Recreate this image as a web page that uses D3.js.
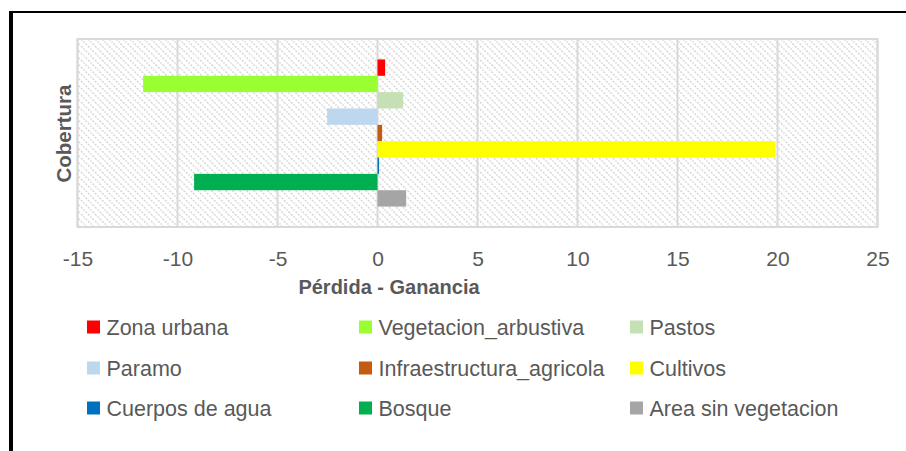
<!DOCTYPE html>
<meta charset="utf-8">
<script src="https://d3js.org/d3.v7.min.js"></script>
<style>
    body {
        margin: 0;
        background: #fff;
        font-family: 'Liberation Sans', 'Arial', sans-serif;
    }
</style>
<div id="my_dataviz"></div>
<script>
    // series (one category: Cobertura)
    var series = ["Zona urbana", "Vegetacion_arbustiva", "Pastos", "Paramo",
        "Infraestructura_agricola", "Cultivos", "Cuerpos de agua", "Bosque", "Area sin vegetacion"];
    var values = [0.38, -11.72, 1.28, -2.52, 0.23, 19.9, 0.08, -9.17, 1.43];
    var colors = ["#ff0000", "#99ff33", "#c5e0b4", "#bdd7ee", "#c55a11", "#ffff00", "#0070c0", "#00b050", "#a5a5a5"];
    var xTicks = [-15, -10, -5, 0, 5, 10, 15, 20, 25];

    var W = 906, H = 451;
    var plot = {left: 77.5, right: 877.5, top: 39, bottom: 227};

    var svg = d3.select("#my_dataviz")
        .append("svg")
        .attr("width", W)
        .attr("height", H);

    // hatch pattern for plot background
    var defs = svg.append("defs");
    var pat = defs.append("pattern")
        .attr("id", "hatch")
        .attr("patternUnits", "userSpaceOnUse")
        .attr("width", 7)
        .attr("height", 7);
    pat.append("rect").attr("width", 7).attr("height", 7).attr("fill", "#fff");
    pat.append("path")
        .attr("d", "M-1,-1 L8,8 M-1,6 L1,8 M6,-1 L8,1")
        .attr("stroke", "#d6d6d6")
        .attr("stroke-width", 1.4)
        .attr("stroke-dasharray", "2.2,1.3");

    // outer frame (top and left black edges)
    svg.append("line").attr("x1", 10).attr("x2", W).attr("y1", 12).attr("y2", 12)
        .attr("stroke", "#000").attr("stroke-width", 2);
    svg.append("line").attr("x1", 11).attr("x2", 11).attr("y1", 11).attr("y2", H)
        .attr("stroke", "#000").attr("stroke-width", 4);

    var x = d3.scaleLinear()
        .domain([-15, 25])
        .range([plot.left, plot.right]);

    var y = d3.scaleBand()
        .domain(series)
        .range([plot.top, plot.bottom])
        .paddingInner(0)
        .paddingOuter(1.25);

    svg.append("rect")
        .attr("x", plot.left)
        .attr("y", plot.top)
        .attr("width", plot.right - plot.left)
        .attr("height", plot.bottom - plot.top)
        .attr("fill", "url(#hatch)");

    // gridlines
    svg.append("g")
        .selectAll("line")
        .data(xTicks)
        .enter()
        .append("line")
        .attr("x1", function(d) { return x(d); })
        .attr("x2", function(d) { return x(d); })
        .attr("y1", plot.top)
        .attr("y2", plot.bottom)
        .attr("stroke", "#d9d9d9")
        .attr("stroke-width", 2);

    svg.append("rect")
        .attr("x", plot.left)
        .attr("y", plot.top)
        .attr("width", plot.right - plot.left)
        .attr("height", plot.bottom - plot.top)
        .attr("fill", "none")
        .attr("stroke", "#d9d9d9")
        .attr("stroke-width", 2);

    // bars
    svg.append("g")
        .selectAll("rect")
        .data(series)
        .enter()
        .append("rect")
        .attr("x", function(d, i) { return x(Math.min(0, values[i])); })
        .attr("y", function(d) { return y(d); })
        .attr("width", function(d, i) { return Math.abs(x(values[i]) - x(0)); })
        .attr("height", y.bandwidth())
        .attr("fill", function(d, i) { return colors[i]; });

    // x axis labels
    var xAxis = svg.append("g")
        .attr("transform", "translate(0," + plot.bottom + ")")
        .call(d3.axisBottom(x).tickValues(xTicks).tickSize(0).tickPadding(24)
            .tickFormat(function(d) { return d; }));
    xAxis.select(".domain").remove();
    xAxis.selectAll("text")
        .attr("dy", 0)
        .attr("y", 38.5)
        .attr("fill", "#595959")
        .style("font-size", "21px")
        .style("font-family", "'Liberation Sans', Arial, sans-serif");

    // axis titles
    svg.append("text")
        .attr("x", 389)
        .attr("y", 294)
        .attr("text-anchor", "middle")
        .attr("fill", "#595959")
        .style("font-weight", "bold")
        .style("font-size", "20px")
        .text("Pérdida - Ganancia");

    svg.append("text")
        .attr("transform", "translate(71,133.5) rotate(-90)")
        .attr("text-anchor", "middle")
        .attr("fill", "#595959")
        .style("font-weight", "bold")
        .style("font-size", "20.5px")
        .text("Cobertura");

    // legend, 3 columns
    var colX = [87, 359, 630];
    var rowY = [327, 368, 408];
    var leg = svg.append("g")
        .selectAll("g")
        .data(series)
        .enter()
        .append("g")
        .attr("transform", function(d, i) {
            return "translate(" + colX[i % 3] + "," + rowY[Math.floor(i / 3)] + ")";
        });
    leg.append("rect")
        .attr("x", 0)
        .attr("y", -6.5)
        .attr("width", 13)
        .attr("height", 13)
        .attr("fill", function(d, i) { return colors[i]; });
    leg.append("text")
        .attr("x", 19.5)
        .attr("y", 7.5)
        .attr("fill", "#595959")
        .style("font-size", "21.5px")
        .text(function(d) { return d; });
</script>
